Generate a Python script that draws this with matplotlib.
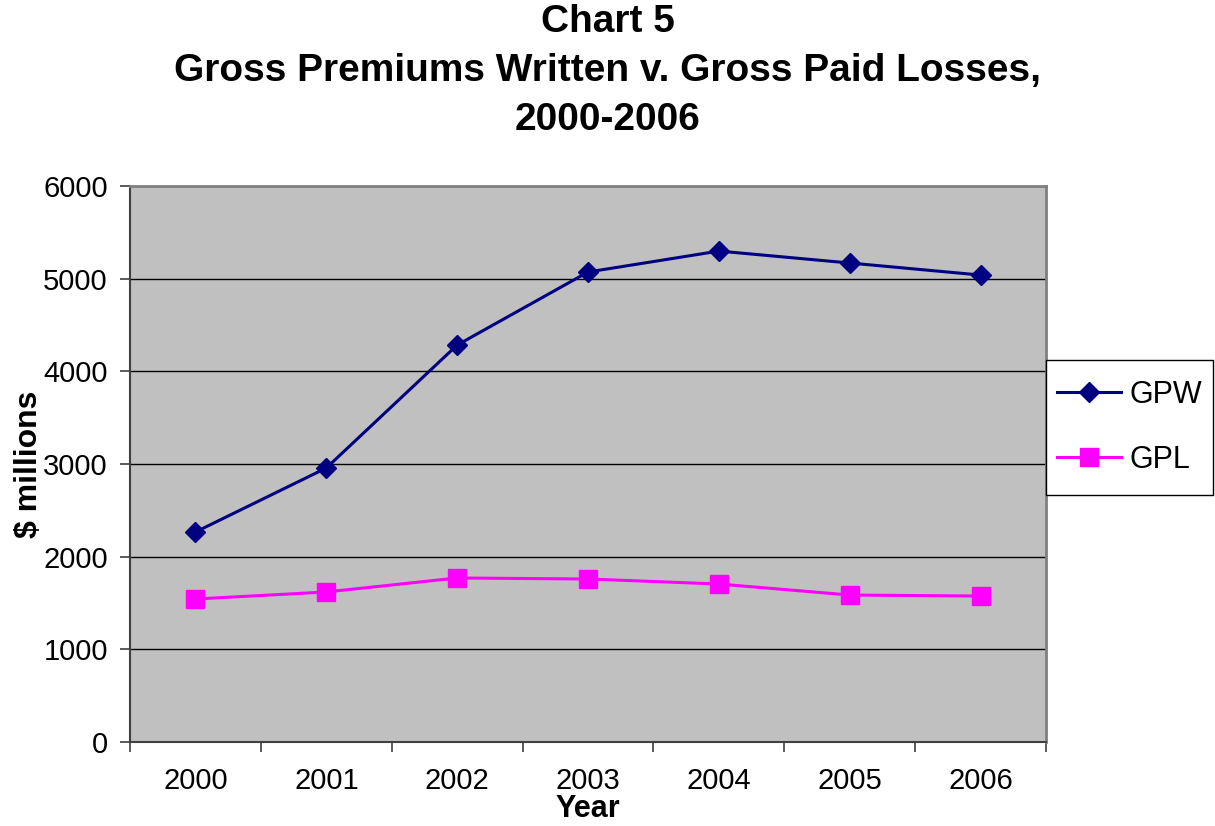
import matplotlib
matplotlib.use("Agg")
import matplotlib.pyplot as plt
from matplotlib.patches import Rectangle
import numpy as np

plt.rcParams['font.family'] = ['Liberation Sans', 'DejaVu Sans']

years = ["2000", "2001", "2002", "2003", "2004", "2005", "2006"]
gpw = [2266, 2957, 4284, 5072, 5298, 5169, 5039]
gpl = [1543, 1619, 1770, 1759, 1705, 1586, 1575]
y_ticks = [0, 1000, 2000, 3000, 4000, 5000, 6000]

W, H = 1215, 826
fig = plt.figure(figsize=(W / 100, H / 100), dpi=100)
ax = fig.add_axes([0.107, 0.1017, 0.754, 0.6731])
ax.set_facecolor('#c0c0c0')

x = np.arange(len(years))
ax.plot(x, gpw, color='#000080', lw=2.2, marker='D', markersize=10,
        markerfacecolor='#000080', markeredgecolor='#000080', label='GPW')
ax.plot(x, gpl, color='#ff00ff', lw=2.2, marker='s', markersize=13,
        markerfacecolor='#ff00ff', markeredgecolor='#ff00ff', label='GPL')

ax.set_xlim(-0.5, len(years) - 0.5)
ax.set_ylim(0, 6000)
ax.set_yticks(y_ticks)
ax.set_yticklabels([str(v) for v in y_ticks], fontsize=21)
ax.yaxis.grid(True, color='black', lw=1)
ax.set_axisbelow(True)

ax.set_xticks(x)
ax.set_xticklabels(years, fontsize=21)
ax.set_xticks(np.arange(-0.5, len(years), 1.0), minor=True)
ax.tick_params(axis='x', which='major', length=0, pad=18)
ax.tick_params(axis='x', which='minor', length=7, width=1.2, color='#404040')
ax.tick_params(axis='y', length=7, width=1.2, color='#404040', pad=9)

for side in ['top', 'right']:
    ax.spines[side].set_color('#808080')
    ax.spines[side].set_linewidth(2)
for side in ['left', 'bottom']:
    ax.spines[side].set_color('#404040')
    ax.spines[side].set_linewidth(1.5)

ax.set_ylabel('$ millions', fontsize=23, fontweight='bold')
ax.yaxis.label.set_va('center')
ax.yaxis.set_label_coords(-0.11, 0.5)

# x-axis title centred under the plot area, anchored near the figure's bottom edge
ax.set_xlabel('')
pos = ax.get_position()
fig.text((pos.x0 + pos.x1) / 2, 0.002, 'Year', ha='center', va='bottom',
         fontsize=22, fontweight='bold')

fig.text(0.5, 0.995, 'Chart 5\nGross Premiums Written v. Gross Paid Losses,\n2000-2006',
         ha='center', va='top', fontsize=28, fontweight='bold', linespacing=1.47)

# legend box drawn as its own frame to the right of the plot area
box_x0, box_y0, box_x1, box_y1 = 1046, 360, 1213, 495
fig.patches.append(Rectangle((box_x0 / W, 1 - box_y1 / H),
                             (box_x1 - box_x0) / W, (box_y1 - box_y0) / H,
                             transform=fig.transFigure, facecolor='white',
                             edgecolor='black', lw=1, zorder=0))
leg = fig.legend(*ax.get_legend_handles_labels(), loc='center',
                 bbox_to_anchor=((box_x0 + box_x1) / 2 / W, 1 - (box_y0 + box_y1) / 2 / H),
                 fontsize=22, frameon=False,
                 handlelength=2.1, borderpad=0.0, labelspacing=1.15,
                 handletextpad=0.25)

fig.savefig('out.png', dpi=100)
